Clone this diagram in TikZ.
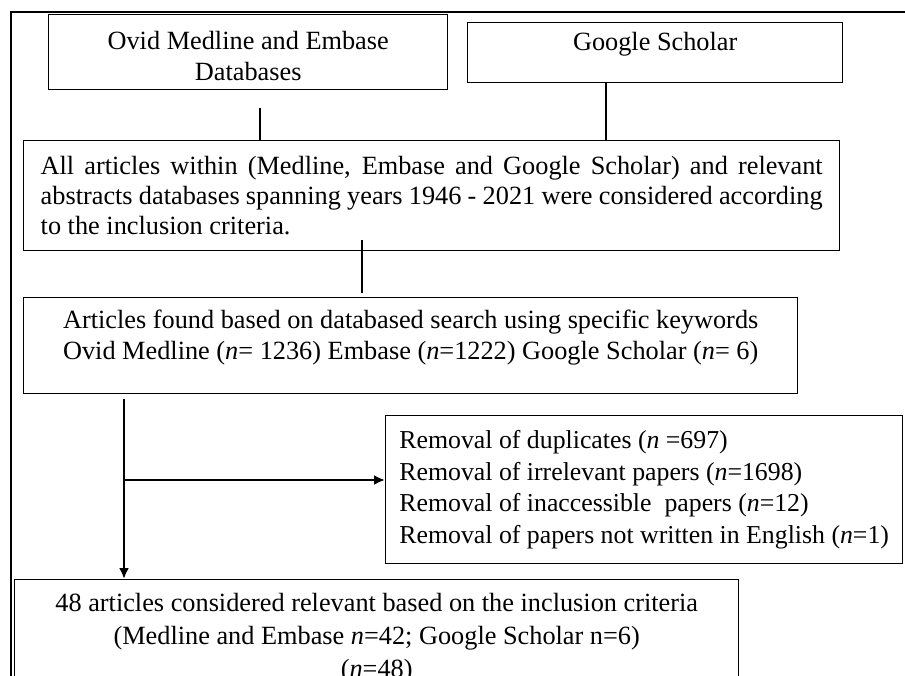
\documentclass[tikz,border=0pt]{standalone}
\usepackage{fontspec}
\setmainfont{Liberation Serif}
\usetikzlibrary{positioning,arrows.meta}

\begin{document}
\begin{tikzpicture}[x=1pt,y=-1pt]
\tikzstyle{every node}+=[inner sep=0pt,font=\fontsize{26.3}{31}\selectfont]
\tikzstyle{box}=[draw,line width=1.4pt,anchor=north west,inner xsep=16pt]
\tikzstyle{link}=[line width=2pt]
\tikzstyle{arr}=[line width=2.6pt,-{Latex[length=11pt,width=10pt]}]
\useasboundingbox (0,0) rectangle (905,676);
\clip (0,0) rectangle (905,676);
\draw [line width=2pt] (11,676) -- (11,12) -- (905,12);
\node [box,minimum width=399pt,minimum height=75pt,align=center] (ovid) at (48,14)
  {\rule{0pt}{26pt}Ovid Medline and Embase\\Databases};
\node [box,minimum width=375pt,minimum height=60pt] (scholar) at (467,22)
  {Google Scholar\rule[-22pt]{0pt}{0pt}};
\node [box,minimum width=816pt,minimum height=110pt,text width=782pt,align=justify,
  font=\fontsize{26.3}{30}\selectfont] (all) at (23,140)
  {All articles within (Medline, Embase and Google Scholar) and relevant\linebreak
   abstracts databases spanning years 1946 - 2021 were considered according\linebreak
   to the inclusion criteria.};
\node [box,minimum width=774pt,minimum height=96pt,align=center] (found) at (23,297)
  {Articles found based on databased search using specific keywords\\
   Ovid Medline (\textit{n}= 1236) Embase (\textit{n}=1222) Google Scholar (\textit{n}= 6)\rule[-21pt]{0pt}{0pt}};
\node [box,minimum width=517pt,minimum height=148pt,inner xsep=10pt,align=left,
  font=\fontsize{25.8}{31.7}\selectfont] (removal) at (385,415)
  {Removal of duplicates (\textit{n} =697)\\
   Removal of irrelevant papers (\textit{n}=1698)\\
   Removal of inaccessible~ papers (\textit{n}=12)\\
   Removal of papers not written in English (\textit{n}=1)};
\node [box,minimum width=724pt,inner ysep=14pt,align=center,
  font=\fontsize{26.3}{33}\selectfont] (final) at (14,579)
  {48 articles considered relevant based on the inclusion criteria\\
   (Medline and Embase \textit{n}=42; Google Scholar n=6)\\
   (\textit{n}=48)};
\coordinate (o1) at (260,108);
\draw [link] (o1) -- (o1 |- all.north);
\coordinate (s1) at (606,0);
\draw [link] (s1 |- scholar.south) -- (s1 |- all.north);
\coordinate (a1) at (362,240);
\coordinate (a2) at (362,293);
\draw [link] (a1) -- (a2);
\coordinate (f1) at (124,399);
\draw [arr] (f1) -- (f1 |- final.north);
\coordinate (b1) at (124,480);
\draw [arr] (b1) -- (b1 -| removal.west);
\end{tikzpicture}
\end{document}
